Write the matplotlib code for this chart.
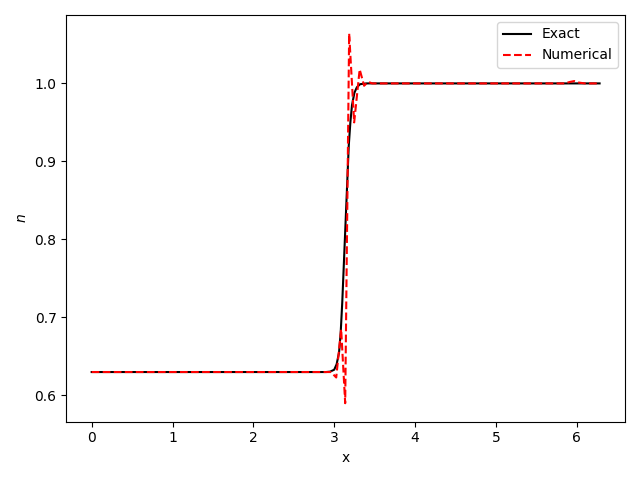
import matplotlib
matplotlib.use("Agg")
import matplotlib.pyplot as plt
import numpy as np

# Exact solution
x_exact = [0.0, 2.90, 2.95, 3.00, 3.03, 3.06, 3.08, 3.10, 3.12, 3.14, 3.16,
           3.18, 3.20, 3.22, 3.25, 3.28, 3.32, 3.40, 6.283]
n_exact = [0.63, 0.63, 0.6305, 0.633, 0.64, 0.655, 0.68, 0.72, 0.77, 0.82, 0.87,
           0.92, 0.95, 0.972, 0.988, 0.995, 0.999, 1.0, 1.0]

# Numerical solution (oscillations near the front, small bump near x=6)
x_num = [0.0, 2.96, 3.025, 3.086, 3.136, 3.185, 3.247, 3.315, 3.37, 3.42,
         3.47, 5.85, 5.92, 5.97, 6.03, 6.10, 6.283]
n_num = [0.63, 0.63, 0.623, 0.685, 0.59, 1.064, 0.95, 1.018, 0.997, 1.002,
         1.0, 1.0, 1.002, 1.003, 1.001, 1.0, 1.0]

fig, ax = plt.subplots(figsize=(6.4, 4.8), dpi=100)
ax.plot(x_exact, n_exact, color="black", label="Exact")
ax.plot(x_num, n_num, "r--", label="Numerical")
ax.set_xlabel("x")
ax.set_ylabel("$n$")
ax.legend(loc="upper right")

plt.tight_layout()
fig.savefig("out.png", dpi=100)
